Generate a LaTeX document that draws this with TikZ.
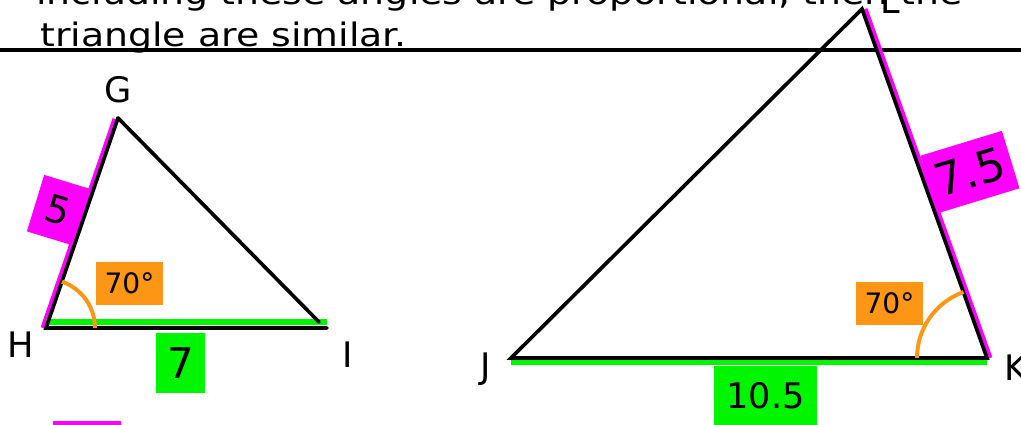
\documentclass[tikz,border=0pt]{standalone}
\usepackage{fontspec}
\setmainfont{DejaVu Sans}
\newfontfamily\handfont[FakeStretch=1.17]{DejaVu Sans}
\usetikzlibrary{calc}
\definecolor{segpink}{RGB}{255,0,255}
\definecolor{seggreen}{RGB}{0,245,0}
\definecolor{angorange}{RGB}{252,150,20}

\begin{document}
\begin{tikzpicture}[x=0.025cm, y=-0.025cm, every node/.style={inner sep=0pt},
  edge/.style={line width=2.6pt, line cap=round},
  pinkside/.style={draw=segpink, line width=3.6pt},
  greenside/.style={draw=seggreen, line width=4.8pt},
  anglearc/.style={draw=angorange, line width=2.8pt},
  vlabel/.style={font=\fontsize{25}{28}\selectfont, anchor=base},
  anglebox/.style={fill=angorange, minimum width=47.7pt, minimum height=30.6pt, font=\fontsize{20}{24}\selectfont}]
  \useasboundingbox (0,0) rectangle (1021,424);
  \clip (0,0) rectangle (1021,424);

  % heading
  \node[anchor=base west, font=\handfont\fontsize{23}{27}\selectfont] (line1) at (36,4) {including these angles are proportional, then the};
  \node[anchor=base west, font=\handfont\fontsize{23}{27}\selectfont] (line2) at (40,46) {triangle are similar.};
  \draw[line width=2.4pt] (0,50) -- (1021,50);

  % small triangle
  \coordinate (G) at (118,118);
  \coordinate (H) at (46,328);
  \coordinate (I) at (327,328);
  \draw[pinkside] ($(G)+(-3,1)$) -- ($(H)+(-3,0)$);
  \draw[greenside] ($(H)+(0,-6)$) -- ($(I)+(0,-6)$);
  \draw[edge] (G) -- (H) -- (I);
  \draw[edge] (G) -- ($(I)+(-8,-6)$);
  \draw[anglearc] ($(H)+(49,0)$) arc[start angle=0, end angle=-71, radius=49];
  \node[vlabel] (labG) at (118,102) {G};
  \node[vlabel] (labH) at (21,357) {H};
  \node[vlabel] (labI) at (348,367) {I};
  \node[anglebox] (angH) at (129.5,283.5) {70°};
  \node[fill=seggreen, minimum width=34.9pt, minimum height=42.7pt, font=\fontsize{30}{34}\selectfont] (lenHI) at (180.5,363) {7};
  \node[fill=segpink, rotate=-17, minimum width=33.4pt, minimum height=42pt, font=\fontsize{27}{30}\selectfont] (lenGH) at (58,210) {5};

  % large triangle
  \coordinate (J) at (511,358);
  \coordinate (K) at (987,358);
  \coordinate (L) at (862,9);
  \draw[pinkside] ($(L)+(3,0)$) -- ($(K)+(3,0)$);
  \draw[greenside] ($(J)+(0,4)$) -- ($(K)+(0,4)$);
  \draw[edge] (J) -- (L) -- (K) -- cycle;
  \draw[anglearc] ($(K)+(-70,0)$) arc[start angle=180, end angle=250.4, radius=70];
  \node[vlabel] (labJ) at (486,378) {J};
  \node[vlabel] (labK) at (1016,380) {K};
  \node[vlabel] (labL) at (890,13) {L};
  \node[anglebox] (angK) at (889.5,303.5) {70°};
  \node[fill=seggreen, minimum width=73.3pt, minimum height=42.7pt, font=\fontsize{25}{30}\selectfont] (lenJK) at (765.5,396) {10.5};
  \node[fill=segpink, rotate=17, minimum width=60.5pt, minimum height=42.7pt, font=\fontsize{32}{36}\selectfont] (lenKL) at (970,172) {7.5};

  % cut-off box at the bottom
  \fill[segpink] (53,421) rectangle (121,440);
\end{tikzpicture}
\end{document}
